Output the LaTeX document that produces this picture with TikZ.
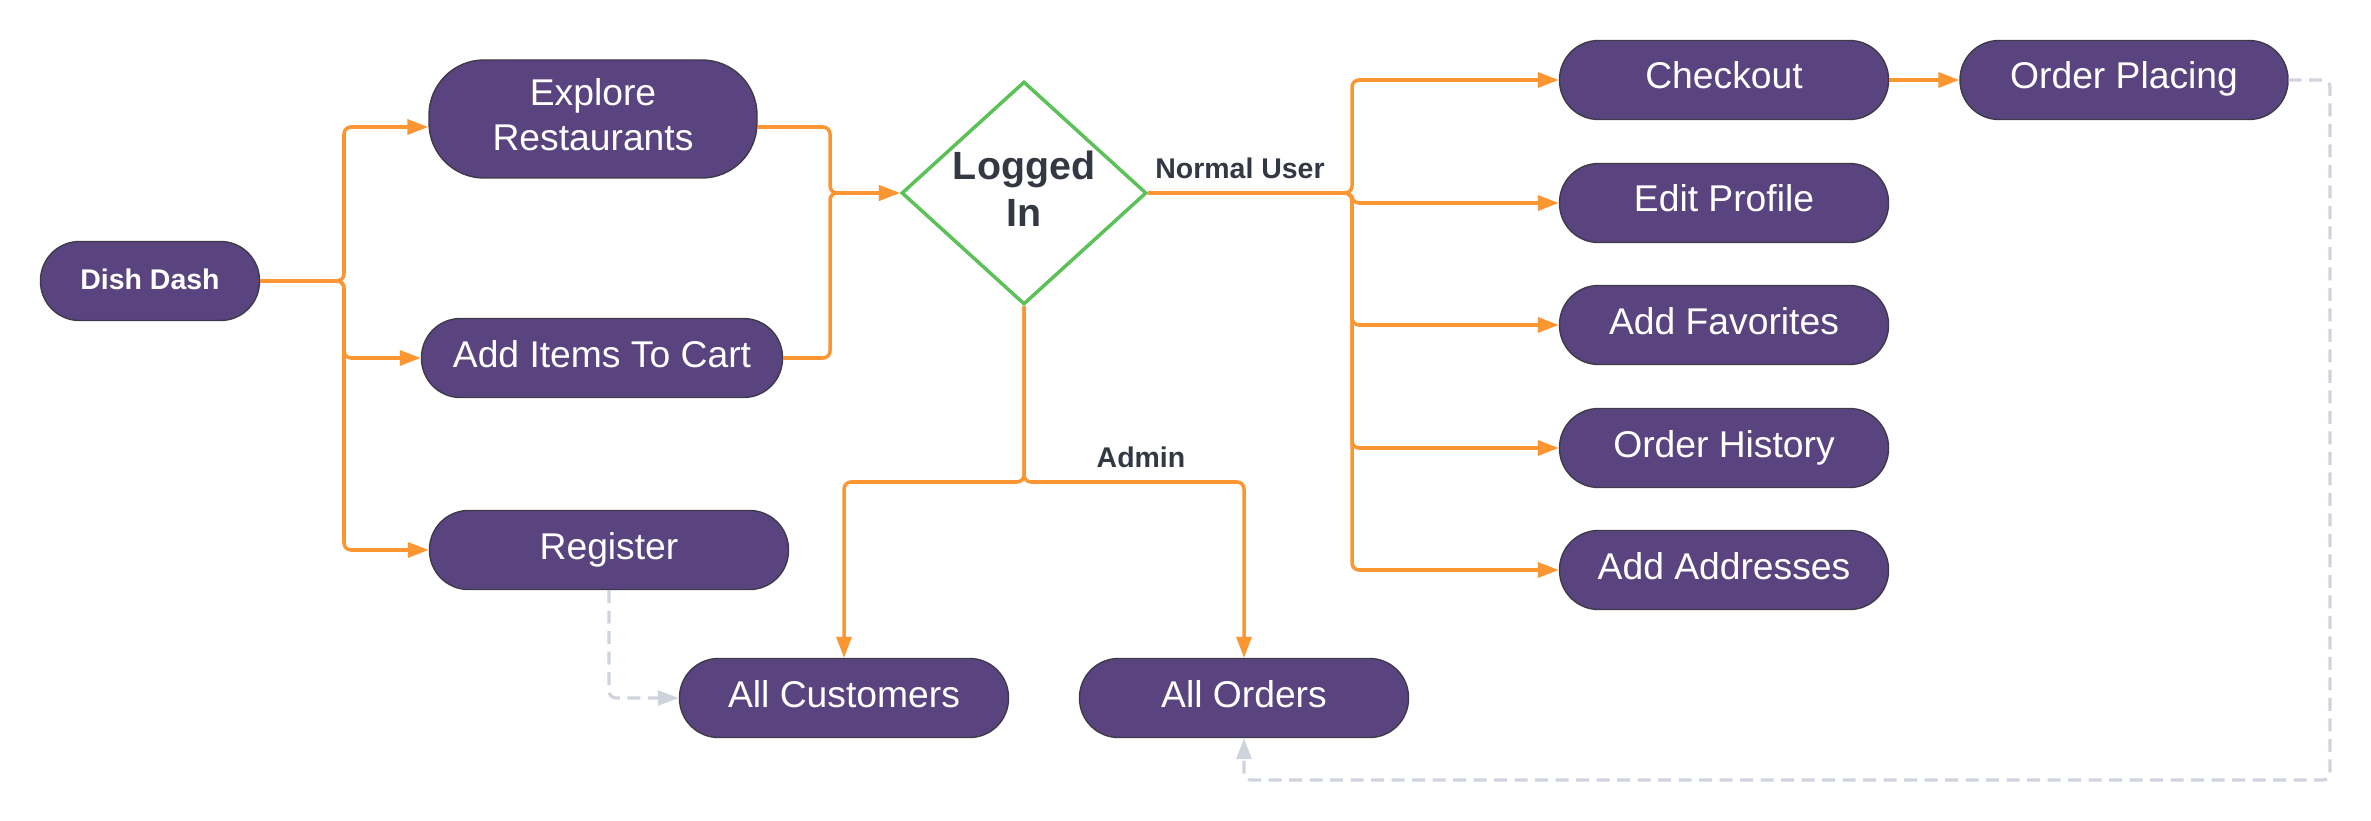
\documentclass[tikz,border=0pt]{standalone}
\usepackage{fontspec}
\setmainfont{Liberation Sans}
\usetikzlibrary{shapes.geometric, arrows.meta}

\definecolor{nodepurple}{HTML}{5A4480}
\definecolor{nodeedge}{HTML}{3E3A4A}
\definecolor{flow}{HTML}{FC9632}
\definecolor{gate}{HTML}{5DC15A}
\definecolor{labelgray}{HTML}{333842}
\definecolor{weak}{HTML}{CFD4DC}

\newcommand{\lift}{\rule[-0.09cm]{0pt}{0pt}}

\begin{document}
\begin{tikzpicture}[
  box/.style={
    rectangle, draw=nodeedge, line width=0.4pt, fill=nodepurple,
    rounded corners=0.39cm, minimum width=3.29cm, minimum height=0.79cm,
    inner sep=0pt, text=white, align=center,
    font=\fontsize{10.6}{12.8}\selectfont
  },
  oneline/.style={box, text height=0.28cm, text depth=0.10cm},
  decision/.style={
    diamond, draw=gate, line width=1pt, fill=white, aspect=1.1,
    minimum width=2.45cm, minimum height=2.23cm, inner sep=0pt,
    text=labelgray, align=center,
    font=\fontsize{11.2}{13.4}\selectfont\bfseries
  },
  tag/.style={text=labelgray, font=\fontsize{8.1}{9.7}\selectfont\bfseries},
  arrow/.style={-{Triangle[length=0.21cm,width=0.15cm]}, line width=1pt, flow, rounded corners=2pt},
  faint/.style={-{Triangle[length=0.21cm,width=0.15cm]}, line width=0.9pt, weak,
    dash pattern=on 0.13cm off 0.075cm, rounded corners=2pt}
]
\useasboundingbox (0,0) rectangle (23.71,-8.20);

% --- Start ---
\node[oneline, minimum width=2.19cm, font=\fontsize{8.1}{9.7}\selectfont\bfseries,
      text height=0.22cm, text depth=0.06cm] (dish) at (1.50,-2.81) {Dish Dash};

% --- Guest actions ---
\node[box, minimum width=3.28cm, minimum height=1.18cm, rounded corners=0.55cm] (explore) at (5.93,-1.19) {Explore\\Restaurants\lift};
\node[oneline, minimum width=3.61cm] (cart)     at (6.02,-3.58) {Add Items To Cart};
\node[oneline, minimum width=3.59cm] (register) at (6.09,-5.50) {Register};

% --- Login check ---
\node[decision] (login) at (10.24,-1.93) {Logged\\In\lift};

% --- Normal user ---
\node[oneline] (checkout)  at (17.24,-0.80) {Checkout};
\node[oneline, minimum width=3.28cm] (placing) at (21.24,-0.80) {Order Placing};
\node[oneline] (profile)   at (17.24,-2.03) {Edit Profile};
\node[oneline] (favorites) at (17.24,-3.25) {Add Favorites};
\node[oneline] (history)   at (17.24,-4.48) {Order History};
\node[oneline] (addresses) at (17.24,-5.70) {Add Addresses};

% --- Admin ---
\node[oneline] (customers) at (8.44,-6.98)  {All Customers};
\node[oneline] (orders)    at (12.44,-6.98) {All Orders};

% Labels
\node[tag] (usertag)  at (12.40,-1.68) {Normal User};
\node[tag] (admintag) at (11.41,-4.57) {Admin};

% Junctions
\coordinate (split)      at (3.44,-2.81);
\coordinate (merge)      at (8.30,-1.93);
\coordinate (bus)        at (13.52,-1.93);
\coordinate (adminsplit) at (10.24,-4.82);
\coordinate (loopcorner) at (23.30,-7.80);

% Arrows
\draw[arrow] (dish.east) -- (split) |- ([yshift=-0.08cm]explore.west);
\draw[arrow] (dish.east) -- (split) |- (cart.west);
\draw[arrow] (dish.east) -- (split) |- (register.west);
\draw[arrow] ([yshift=-0.08cm]explore.east) -| (merge) -- (login.west);
\draw[arrow] (cart.east) -| (merge) -- (login.west);
\draw[arrow] (login.east) -- (bus) |- (checkout.west);
\draw[arrow] (login.east) -- (bus) |- (profile.west);
\draw[arrow] (login.east) -- (bus) |- (favorites.west);
\draw[arrow] (login.east) -- (bus) |- (history.west);
\draw[arrow] (login.east) -- (bus) |- (addresses.west);
\draw[arrow] (checkout) -- (placing);
\draw[arrow] (login.south) -- (adminsplit) -| (customers.north);
\draw[arrow] (login.south) -- (adminsplit) -| (orders.north);
\draw[faint] (register.south) |- (customers.west);
\draw[faint] (placing.east) -| (loopcorner) -| (orders.south);

\end{tikzpicture}
\end{document}
